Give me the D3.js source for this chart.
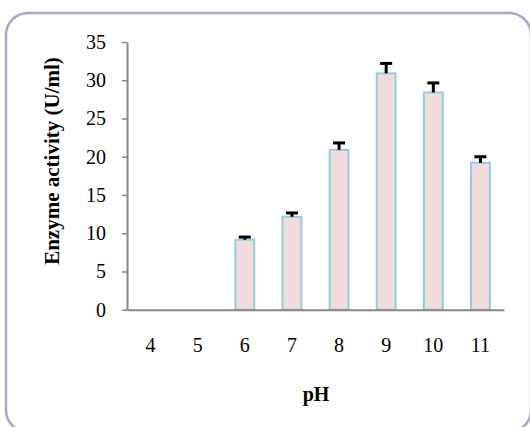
<!DOCTYPE html>
<html>
<head>
<meta charset="utf-8">
<script src="https://cdn.jsdelivr.net/npm/d3@7"></script>
<style>
  html, body { margin: 0; padding: 0; background: #fff; }
  svg { display: block; }
</style>
</head>
<body>
<div id="chart"></div>
<script>
const categories = ["4", "5", "6", "7", "8", "9", "10", "11"];
const activity = [0, 0, 9.15, 12.15, 20.9, 30.9, 28.4, 19.2];
const errors = [0, 0, 0.35, 0.5, 0.9, 1.3, 1.25, 0.8];
const yTicks = [0, 5, 10, 15, 20, 25, 30, 35];

const W = 530, H = 427;
const svg = d3.select("#chart").append("svg").attr("width", W).attr("height", H);

// rounded frame
svg.append("rect")
  .attr("x", 6).attr("y", 13).attr("width", 525).attr("height", 419)
  .attr("rx", 22).attr("ry", 22)
  .attr("fill", "#fff").attr("stroke", "#b3a2c7").attr("stroke-width", 2.5);

const plotLeft = 127, plotRight = 504, plotTop = 42, plotBottom = 309.7;
const x = d3.scaleBand().domain(categories).range([plotLeft, plotRight]).paddingInner(0.6).paddingOuter(0.3);
const y = d3.scaleLinear().domain([0, 35]).range([plotBottom, plotTop]);

const font = "'Liberation Serif', 'Times New Roman', serif";

// y axis
const yAxis = svg.append("g").attr("transform", `translate(${plotLeft},0)`)
  .call(d3.axisLeft(y).tickValues(yTicks).tickSize(5).tickPadding(16).tickSizeOuter(0));
yAxis.select(".domain").attr("stroke", "#868686").attr("stroke-width", 2);
yAxis.selectAll(".tick line").attr("stroke", "#868686").attr("stroke-width", 1.5);
yAxis.selectAll(".tick text").attr("font-family", font).attr("font-size", 20).attr("fill", "#000");

// bars
svg.append("g").selectAll("rect").data(categories.map((c, i) => ({c, v: activity[i], e: errors[i]})).filter(d => d.v > 0))
  .join("rect")
  .attr("x", d => x(d.c)).attr("width", x.bandwidth())
  .attr("y", d => y(d.v)).attr("height", d => y(0) - y(d.v))
  .attr("fill", "#f2dcdb").attr("stroke", "#93cddd").attr("stroke-width", 2);

// error bars (plus direction)
const eg = svg.append("g");
categories.forEach((c, i) => {
  if (activity[i] <= 0) return;
  const cx = x(c) + x.bandwidth() / 2;
  eg.append("line").attr("x1", cx).attr("x2", cx)
    .attr("y1", y(activity[i])).attr("y2", y(activity[i] + errors[i]))
    .attr("stroke", "#000").attr("stroke-width", 3);
  eg.append("line").attr("x1", cx - 6).attr("x2", cx + 6)
    .attr("y1", y(activity[i] + errors[i])).attr("y2", y(activity[i] + errors[i]))
    .attr("stroke", "#000").attr("stroke-width", 3);
});

// x axis
const xAxis = svg.append("g").attr("transform", `translate(0,${plotBottom})`)
  .call(d3.axisBottom(x).tickSize(0).tickPadding(28).tickSizeOuter(0));
xAxis.select(".domain").attr("stroke", "#868686").attr("stroke-width", 2);
xAxis.selectAll(".tick text").attr("font-family", font).attr("font-size", 20).attr("fill", "#000");

// axis titles
svg.append("text")
  .attr("transform", `translate(59,161) rotate(-90)`)
  .attr("text-anchor", "middle")
  .attr("font-family", font).attr("font-weight", "bold").attr("font-size", 21)
  .text("Enzyme activity (U/ml)");

svg.append("text")
  .attr("x", 316).attr("y", 401)
  .attr("text-anchor", "middle")
  .attr("font-family", font).attr("font-weight", "bold").attr("font-size", 20)
  .text("pH");
</script>
</body>
</html>
